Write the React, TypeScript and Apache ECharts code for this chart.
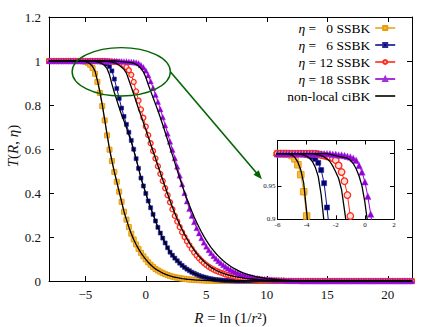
import React, { useEffect, useRef } from "react";
import * as echarts from "echarts";

// Shared R grid for all sampled curves: R = R_START + i * R_STEP, i = 0..150 (R from -8 to 22)
const R_START = -8;
const R_STEP = 0.2;

const X_TICKS = [-5, 0, 5, 10, 15, 20];
const Y_TICKS = [0, 0.2, 0.4, 0.6, 0.8, 1, 1.2];
const INSET_Y_LABELS = [0.9, 0.95, 1];

const SERIES_NAMES = ["η = \u20070 SSBK", "η = \u20076 SSBK", "η = 12 SSBK", "η = 18 SSBK"];
const CIBK_NAME = "non-local ciBK";

// SSBK, eta = 0
const SSBK_ETA0 = [
  1, 1, 1, 1, 1, 1, 1, 1, 1, 1,
  1, 1, 1, 1, 0.999, 0.997, 0.992, 0.983, 0.968, 0.942,
  0.905, 0.855, 0.795, 0.73, 0.662, 0.597, 0.545, 0.496, 0.451, 0.406,
  0.36, 0.315, 0.279, 0.245, 0.215, 0.189, 0.166, 0.146, 0.128, 0.112,
  0.098, 0.085, 0.074, 0.064, 0.055, 0.048, 0.042, 0.036, 0.031, 0.027,
  0.023, 0.02, 0.017, 0.015, 0.013, 0.011, 0.01, 0.008, 0.007, 0.006,
  0.005, 0.004, 0.004, 0.003, 0.003, 0.002, 0.002, 0.002, 0.001, 0.001,
  0.001, 0, 0, 0, 0, 0, 0, 0, 0, 0,
  0, 0, 0, 0, 0, 0, 0, 0, 0, 0,
  0, 0, 0, 0, 0, 0, 0, 0, 0, 0,
  0, 0, 0, 0, 0, 0, 0, 0, 0, 0,
  0, 0, 0, 0, 0, 0, 0, 0, 0, 0,
  0, 0, 0, 0, 0, 0, 0, 0, 0, 0,
  0, 0, 0, 0, 0, 0, 0, 0, 0, 0,
  0, 0, 0, 0, 0, 0, 0, 0, 0, 0,
  0,
];

// SSBK, eta = 6
const SSBK_ETA6 = [
  1, 1, 1, 1, 1, 1, 1, 1, 1, 1,
  1, 1, 1, 1, 1, 1, 1, 1, 1, 0.999,
  0.998, 0.997, 0.995, 0.992, 0.986, 0.975, 0.955, 0.918, 0.875, 0.83,
  0.786, 0.748, 0.712, 0.676, 0.639, 0.599, 0.556, 0.512, 0.468, 0.432,
  0.398, 0.364, 0.333, 0.303, 0.273, 0.244, 0.218, 0.195, 0.173, 0.151,
  0.131, 0.117, 0.104, 0.092, 0.081, 0.071, 0.062, 0.054, 0.047, 0.04,
  0.035, 0.03, 0.025, 0.021, 0.018, 0.015, 0.012, 0.01, 0.008, 0.006,
  0.005, 0.004, 0.003, 0.002, 0.002, 0.001, 0.001, 0, 0, 0,
  0, 0, 0, 0, 0, 0, 0, 0, 0, 0,
  0, 0, 0, 0, 0, 0, 0, 0, 0, 0,
  0, 0, 0, 0, 0, 0, 0, 0, 0, 0,
  0, 0, 0, 0, 0, 0, 0, 0, 0, 0,
  0, 0, 0, 0, 0, 0, 0, 0, 0, 0,
  0, 0, 0, 0, 0, 0, 0, 0, 0, 0,
  0, 0, 0, 0, 0, 0, 0, 0, 0, 0,
  0,
];

// SSBK, eta = 12
const SSBK_ETA12 = [
  1, 1, 1, 1, 1, 1, 1, 1, 1, 1,
  1, 1, 1, 1, 1, 1, 1, 1, 1, 1,
  1, 1, 1, 1, 0.999, 0.998, 0.997, 0.996, 0.995, 0.993,
  0.99, 0.982, 0.972, 0.958, 0.937, 0.905, 0.862, 0.82, 0.78, 0.742,
  0.702, 0.663, 0.626, 0.591, 0.557, 0.522, 0.487, 0.455, 0.422, 0.39,
  0.358, 0.326, 0.296, 0.27, 0.245, 0.222, 0.2, 0.181, 0.163, 0.146,
  0.13, 0.116, 0.103, 0.092, 0.082, 0.073, 0.065, 0.058, 0.052, 0.047,
  0.042, 0.038, 0.034, 0.03, 0.027, 0.024, 0.022, 0.02, 0.018, 0.016,
  0.014, 0.012, 0.01, 0.009, 0.008, 0.007, 0.006, 0.005, 0.004, 0.004,
  0.003, 0.003, 0.002, 0.002, 0.002, 0.001, 0.001, 0.001, 0, 0,
  0, 0, 0, 0, 0, 0, 0, 0, 0, 0,
  0, 0, 0, 0, 0, 0, 0, 0, 0, 0,
  0, 0, 0, 0, 0, 0, 0, 0, 0, 0,
  0, 0, 0, 0, 0, 0, 0, 0, 0, 0,
  0, 0, 0, 0, 0, 0, 0, 0, 0, 0,
  0,
];

// SSBK, eta = 18
const SSBK_ETA18 = [
  1, 1, 1, 1, 1, 1, 1, 1, 1, 1,
  1, 1, 1, 1, 1, 1, 1, 1, 1, 1,
  1, 1, 1, 1, 1, 1, 1, 1, 1, 0.999,
  0.999, 0.998, 0.998, 0.997, 0.996, 0.995, 0.993, 0.99, 0.982, 0.972,
  0.957, 0.935, 0.908, 0.878, 0.847, 0.815, 0.781, 0.745, 0.708, 0.671,
  0.634, 0.597, 0.559, 0.52, 0.48, 0.44, 0.4, 0.362, 0.328, 0.297,
  0.268, 0.241, 0.217, 0.195, 0.175, 0.157, 0.141, 0.127, 0.114, 0.102,
  0.091, 0.082, 0.073, 0.065, 0.058, 0.052, 0.046, 0.041, 0.036, 0.032,
  0.028, 0.025, 0.022, 0.019, 0.017, 0.015, 0.013, 0.011, 0.01, 0.009,
  0.008, 0.007, 0.006, 0.005, 0.004, 0.004, 0.003, 0.003, 0.002, 0.002,
  0.002, 0.001, 0.001, 0.001, 0, 0, 0, 0, 0, 0,
  0, 0, 0, 0, 0, 0, 0, 0, 0, 0,
  0, 0, 0, 0, 0, 0, 0, 0, 0, 0,
  0, 0, 0, 0, 0, 0, 0, 0, 0, 0,
  0, 0, 0, 0, 0, 0, 0, 0, 0, 0,
  0,
];

// non-local ciBK curves
const CIBK_ETA0 = [
  1, 1, 1, 1, 1, 1, 1, 1, 1, 1,
  1, 1, 1, 1, 0.999, 0.998, 0.994, 0.987, 0.975, 0.955,
  0.912, 0.862, 0.802, 0.735, 0.666, 0.6, 0.546, 0.496, 0.451, 0.406,
  0.36, 0.315, 0.279, 0.245, 0.215, 0.189, 0.166, 0.146, 0.128, 0.112,
  0.098, 0.085, 0.074, 0.064, 0.055, 0.048, 0.042, 0.036, 0.031, 0.027,
  0.023, 0.02, 0.017, 0.015, 0.013, 0.011, 0.01, 0.008, 0.007, 0.006,
  0.005, 0.004, 0.004, 0.003, 0.003, 0.002, 0.002, 0.002, 0.001, 0.001,
  0.001, 0, 0, 0, 0, 0, 0, 0, 0, 0,
  0, 0, 0, 0, 0, 0, 0, 0, 0, 0,
  0, 0, 0, 0, 0, 0, 0, 0, 0, 0,
  0, 0, 0, 0, 0, 0, 0, 0, 0, 0,
  0, 0, 0, 0, 0, 0, 0, 0, 0, 0,
  0, 0, 0, 0, 0, 0, 0, 0, 0, 0,
  0, 0, 0, 0, 0, 0, 0, 0, 0, 0,
  0, 0, 0, 0, 0, 0, 0, 0, 0, 0,
  0,
];

const CIBK_ETA6 = [
  1, 1, 1, 1, 1, 1, 1, 1, 1, 1,
  1, 1, 1, 1, 1, 1, 1, 1, 0.999, 0.998,
  0.996, 0.993, 0.988, 0.979, 0.965, 0.937, 0.895, 0.857, 0.822, 0.788,
  0.756, 0.727, 0.697, 0.665, 0.631, 0.594, 0.554, 0.512, 0.469, 0.433,
  0.398, 0.364, 0.333, 0.303, 0.273, 0.244, 0.218, 0.195, 0.173, 0.151,
  0.131, 0.117, 0.104, 0.092, 0.081, 0.071, 0.062, 0.054, 0.047, 0.04,
  0.035, 0.03, 0.025, 0.021, 0.018, 0.015, 0.012, 0.01, 0.008, 0.006,
  0.005, 0.004, 0.003, 0.002, 0.002, 0.001, 0.001, 0, 0, 0,
  0, 0, 0, 0, 0, 0, 0, 0, 0, 0,
  0, 0, 0, 0, 0, 0, 0, 0, 0, 0,
  0, 0, 0, 0, 0, 0, 0, 0, 0, 0,
  0, 0, 0, 0, 0, 0, 0, 0, 0, 0,
  0, 0, 0, 0, 0, 0, 0, 0, 0, 0,
  0, 0, 0, 0, 0, 0, 0, 0, 0, 0,
  0, 0, 0, 0, 0, 0, 0, 0, 0, 0,
  0,
];

const CIBK_ETA12 = [
  1, 1, 1, 1, 1, 1, 1, 1, 1, 1,
  1, 1, 1, 1, 1, 1, 1, 1, 1, 1,
  1, 1, 1, 0.999, 0.998, 0.997, 0.995, 0.992, 0.988, 0.981,
  0.972, 0.962, 0.945, 0.914, 0.882, 0.85, 0.816, 0.783, 0.752, 0.72,
  0.688, 0.655, 0.622, 0.59, 0.558, 0.525, 0.492, 0.46, 0.428, 0.397,
  0.366, 0.336, 0.308, 0.282, 0.257, 0.234, 0.212, 0.192, 0.173, 0.156,
  0.14, 0.125, 0.112, 0.1, 0.089, 0.079, 0.07, 0.062, 0.055, 0.049,
  0.044, 0.039, 0.035, 0.031, 0.028, 0.025, 0.022, 0.02, 0.018, 0.016,
  0.014, 0.012, 0.011, 0.01, 0.009, 0.008, 0.007, 0.006, 0.005, 0.004,
  0.004, 0.003, 0.003, 0.002, 0.002, 0.002, 0.001, 0.001, 0.001, 0,
  0, 0, 0, 0, 0, 0, 0, 0, 0, 0,
  0, 0, 0, 0, 0, 0, 0, 0, 0, 0,
  0, 0, 0, 0, 0, 0, 0, 0, 0, 0,
  0, 0, 0, 0, 0, 0, 0, 0, 0, 0,
  0, 0, 0, 0, 0, 0, 0, 0, 0, 0,
  0,
];

const CIBK_ETA18 = [
  1, 1, 1, 1, 1, 1, 1, 1, 1, 1,
  1, 1, 1, 1, 1, 1, 1, 1, 1, 1,
  1, 1, 1, 1, 1, 1, 1, 1, 0.999, 0.998,
  0.997, 0.996, 0.995, 0.994, 0.993, 0.99, 0.985, 0.977, 0.966, 0.951,
  0.926, 0.893, 0.863, 0.834, 0.804, 0.775, 0.743, 0.71, 0.676, 0.642,
  0.607, 0.572, 0.537, 0.502, 0.468, 0.435, 0.403, 0.373, 0.344, 0.317,
  0.291, 0.267, 0.244, 0.223, 0.203, 0.185, 0.168, 0.152, 0.138, 0.125,
  0.113, 0.102, 0.092, 0.083, 0.075, 0.067, 0.06, 0.054, 0.048, 0.043,
  0.038, 0.034, 0.03, 0.027, 0.024, 0.021, 0.019, 0.017, 0.015, 0.013,
  0.011, 0.01, 0.009, 0.008, 0.007, 0.006, 0.005, 0.004, 0.004, 0.003,
  0.003, 0.002, 0.002, 0.002, 0.001, 0.001, 0.001, 0, 0, 0,
  0, 0, 0, 0, 0, 0, 0, 0, 0, 0,
  0, 0, 0, 0, 0, 0, 0, 0, 0, 0,
  0, 0, 0, 0, 0, 0, 0, 0, 0, 0,
  0, 0, 0, 0, 0, 0, 0, 0, 0, 0,
  0,
];

// Zoom annotation (data coordinates of main panel)
const ELLIPSE_CENTER = [-2.03, 0.951];
const ELLIPSE_RADII = [4.06, 0.11];
const ARROW_FROM = [2.03, 0.951];
const ARROW_TO = [9.6, 0.462];

const FONT = "Liberation Serif";
const GREEN = "#006400";

const STYLES = [
  { symbol: "rect", main: 5, inset: 6.5, color: "#f4bb45", border: "#e99d0c", line: "#eaa21a", borderWidth: 1 },
  { symbol: "rect", main: 4, inset: 5, color: "#00007a", border: "#2a2a95", line: "#101088", borderWidth: 0.6 },
  { symbol: "circle", main: 5, inset: 6.5, color: "#ffe2dc", border: "#ff2a1a", line: "#ff2a1a", borderWidth: 1.3 },
  { symbol: "triangle", main: 5.5, inset: 6.5, color: "#9400d3", border: "#a030e0", line: "#9400d3", borderWidth: 0.4 },
];

const SSBK = [SSBK_ETA0, SSBK_ETA6, SSBK_ETA12, SSBK_ETA18];
const CIBK = [CIBK_ETA0, CIBK_ETA6, CIBK_ETA12, CIBK_ETA18];

const toPairs = (values: number[]) =>
  values.map((t, i) => [Number((R_START + i * R_STEP).toFixed(1)), t]);

const minusFmt = (v: number) => (v < 0 ? "\u2212" + Math.abs(v) : String(v));
const insetYFmt = (v: number) =>
  INSET_Y_LABELS.some((t) => Math.abs(t - v) < 1e-6) ? String(Number(v.toFixed(2))) : "";

function buildOption() {
  const series: any[] = [];
  const panels = [
    { xi: 0, yi: 0, key: "main", lw: 1.3 },
    { xi: 2, yi: 2, key: "inset", lw: 1.3 },
  ];
  panels.forEach((p) => {
    SSBK.forEach((vals, k) => {
      const st = STYLES[k];
      series.push({
        type: "line",
        name: SERIES_NAMES[k],
        xAxisIndex: p.xi,
        yAxisIndex: p.yi,
        data: toPairs(vals),
        symbol: st.symbol,
        symbolSize: (st as any)[p.key],
        showSymbol: true,
        showAllSymbol: true,
        clip: true,
        z: 2,
        itemStyle: { color: st.color, borderColor: st.border, borderWidth: st.borderWidth },
        lineStyle: { color: st.line, width: 1 },
        emphasis: { disabled: true },
        silent: true,
      });
    });
    CIBK.forEach((vals) => {
      series.push({
        type: "line",
        name: CIBK_NAME,
        xAxisIndex: p.xi,
        yAxisIndex: p.yi,
        data: toPairs(vals),
        symbol: "none",
        clip: true,
        z: 3,
        itemStyle: { color: "#000" },
        lineStyle: { color: "#000", width: p.lw },
        emphasis: { disabled: true },
        silent: true,
      });
    });
  });

  const axisLine = { show: true, onZero: false, lineStyle: { color: "#000", width: 1 } };
  const tickStyle = { color: "#000", width: 1 };
  const labelBase = { fontFamily: FONT, color: "#111", hideOverlap: false };

  return {
    animation: false,
    backgroundColor: "#fff",
    textStyle: { fontFamily: FONT },
    grid: [
      { left: 49, top: 17, right: 24, bottom: 46 },
      { left: 277.5, top: 140.5, width: 116.5, height: 78.8, show: true, backgroundColor: "#fff", borderWidth: 0 },
    ],
    legend: {
      data: [
        ...SERIES_NAMES,
        { name: CIBK_NAME, icon: "path://M0,0 L20,0 L20,1.6 L0,1.6 Z", itemStyle: { color: "#000" } },
      ],
      orient: "vertical",
      right: 40,
      top: 21,
      padding: 0,
      align: "right",
      itemWidth: 20,
      itemHeight: 5,
      itemGap: 3,
      selectedMode: false,
      lineStyle: { width: 1.6 },
      textStyle: {
        fontFamily: FONT,
        fontSize: 13.5,
        color: "#000",
        lineHeight: 14,
        rich: { i: { fontFamily: FONT, fontSize: 13.5, fontStyle: "italic", lineHeight: 14 } },
      },
      formatter: (name: string) => (name.startsWith("η") ? "{i|η}" + name.slice(1) : name),
    },
    xAxis: [
      {
        gridIndex: 0, type: "value", min: -8, max: 22, position: "bottom",
        axisLine, splitLine: { show: false },
        axisTick: { show: true, inside: true, length: 5, customValues: X_TICKS, lineStyle: tickStyle },
        axisLabel: { ...labelBase, show: true, customValues: X_TICKS, formatter: minusFmt, fontSize: 13, margin: 7 },
      },
      {
        gridIndex: 0, type: "value", min: -8, max: 22, position: "top",
        axisLine, splitLine: { show: false },
        axisTick: { show: true, inside: true, length: 5, customValues: X_TICKS, lineStyle: tickStyle },
        axisLabel: { show: false },
      },
      {
        gridIndex: 1, type: "value", min: -6, max: 2, interval: 2, position: "bottom",
        axisLine, splitLine: { show: false },
        axisTick: { show: true, inside: true, length: 4, lineStyle: tickStyle },
        axisLabel: { ...labelBase, show: true, showMinLabel: true, showMaxLabel: true, fontSize: 7, margin: 2 },
      },
      {
        gridIndex: 1, type: "value", min: -6, max: 2, interval: 2, position: "top",
        axisLine, splitLine: { show: false },
        axisTick: { show: true, inside: true, length: 4, lineStyle: tickStyle },
        axisLabel: { show: false },
      },
    ],
    yAxis: [
      {
        gridIndex: 0, type: "value", min: 0, max: 1.2, position: "left",
        axisLine, splitLine: { show: false },
        axisTick: { show: true, inside: true, length: 5, customValues: Y_TICKS, lineStyle: tickStyle },
        axisLabel: { ...labelBase, show: true, showMinLabel: true, showMaxLabel: true, customValues: Y_TICKS, fontSize: 13, margin: 8 },
      },
      {
        gridIndex: 0, type: "value", min: 0, max: 1.2, position: "right",
        axisLine, splitLine: { show: false },
        axisTick: { show: true, inside: true, length: 5, customValues: Y_TICKS, lineStyle: tickStyle },
        axisLabel: { show: false },
      },
      {
        gridIndex: 1, type: "value", min: 0.9, max: 1.02, interval: 0.05, position: "left",
        axisLine, splitLine: { show: false },
        axisTick: { show: true, inside: true, length: 4, lineStyle: tickStyle },
        axisLabel: { ...labelBase, show: true, showMinLabel: true, showMaxLabel: false, formatter: insetYFmt, fontSize: 7, margin: 2 },
      },
      {
        gridIndex: 1, type: "value", min: 0.9, max: 1.02, interval: 0.05, position: "right",
        axisLine, splitLine: { show: false },
        axisTick: { show: true, inside: true, length: 4, lineStyle: tickStyle },
        axisLabel: { show: false },
      },
    ],
    series,
  };
}

export default function App() {
  const ref = useRef<HTMLDivElement>(null);
  useEffect(() => {
    if (!ref.current) return;
    const chart = echarts.init(ref.current, undefined, { renderer: "svg", width: 436, height: 327 });
    chart.setOption(buildOption() as any);

    const px = (v: number[]) => chart.convertToPixel({ gridIndex: 0 }, v) as number[];
    const c = px(ELLIPSE_CENTER);
    const e = px([ELLIPSE_CENTER[0] + ELLIPSE_RADII[0], ELLIPSE_CENTER[1] + ELLIPSE_RADII[1]]);
    const rx = Math.abs(e[0] - c[0]);
    const ry = Math.abs(c[1] - e[1]);
    const a0 = px(ARROW_FROM);
    const a1 = px(ARROW_TO);
    const dx = a1[0] - a0[0];
    const dy = a1[1] - a0[1];
    const len = Math.hypot(dx, dy);
    const ux = dx / len;
    const uy = dy / len;
    const headL = 9;
    const headW = 3.5;
    const bx = a1[0] - ux * headL;
    const by = a1[1] - uy * headL;
    const plotCenterX = (49 + 412) / 2;

    chart.setOption({
      graphic: [
        {
          type: "ellipse",
          shape: { cx: c[0], cy: c[1], rx, ry },
          style: { fill: "none", stroke: GREEN, lineWidth: 1.4 },
          silent: true,
          z: 10,
        },
        {
          type: "line",
          shape: { x1: a0[0], y1: a0[1], x2: bx + ux * 2, y2: by + uy * 2 },
          style: { stroke: GREEN, lineWidth: 1.6 },
          silent: true,
          z: 10,
        },
        {
          type: "polygon",
          shape: {
            points: [
              [a1[0], a1[1]],
              [bx - uy * headW, by + ux * headW],
              [bx + uy * headW, by - ux * headW],
            ],
          },
          style: { fill: GREEN, stroke: "none" },
          silent: true,
          z: 10,
        },
        {
          type: "text",
          x: plotCenterX,
          y: 318,
          silent: true,
          style: {
            text: "{i|R} = ln (1/{i|r}²)",
            fontFamily: FONT,
            fontSize: 15,
            fill: "#111",
            align: "center",
            verticalAlign: "middle",
            rich: { i: { fontFamily: FONT, fontSize: 15, fontStyle: "italic", fill: "#111" } },
          },
        },
        {
          type: "text",
          x: 13,
          y: 146,
          rotation: Math.PI / 2,
          silent: true,
          style: {
            text: "{i|T}({i|R}, {i|η})",
            fontFamily: FONT,
            fontSize: 15,
            fill: "#111",
            align: "center",
            verticalAlign: "middle",
            rich: { i: { fontFamily: FONT, fontSize: 15, fontStyle: "italic", fill: "#111" } },
          },
        },
      ],
    } as any);

    return () => chart.dispose();
  }, []);
  return (
    <div
      ref={ref}
      style={{ position: "fixed", left: 0, top: 0, width: 436, height: 327, background: "#fff" }}
    />
  );
}
